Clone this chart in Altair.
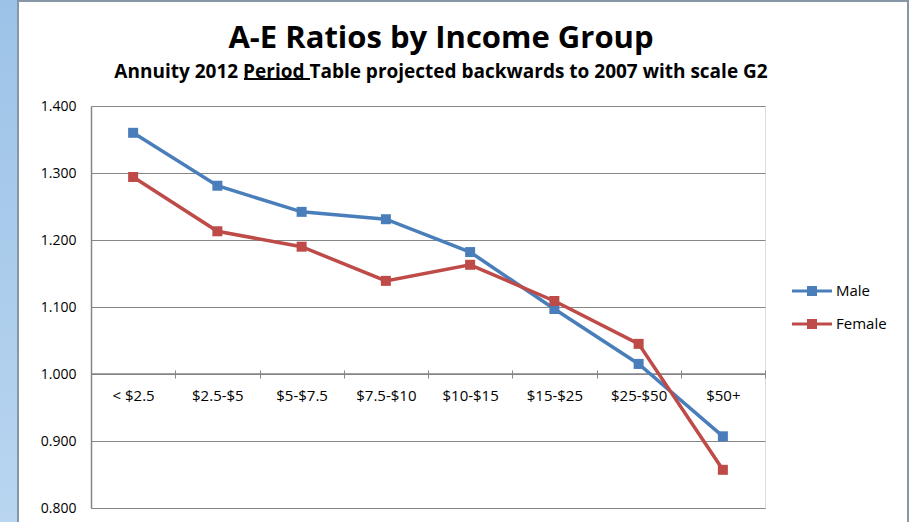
import altair as alt
import pandas as pd

categories = ["< $2.5", "$2.5-$5", "$5-$7.5", "$7.5-$10", "$10-$15", "$15-$25", "$25-$50", "$50+"]
male = [1.360, 1.281, 1.242, 1.231, 1.182, 1.097, 1.015, 0.907]
female = [1.294, 1.213, 1.190, 1.139, 1.163, 1.109, 1.045, 0.857]
series = ["Male", "Female"]
colors = ["#4A7EBB", "#BE4B48"]
y_ticks = [0.8, 0.9, 1.0, 1.1, 1.2, 1.3, 1.4]
axis_cross = [1.0]

rows = []
for s, vals in zip(series, [male, female]):
    for c, v in zip(categories, vals):
        rows.append({"Income": c, "Series": s, "Ratio": v})
df = pd.DataFrame(rows)
cross_df = pd.DataFrame({"Ratio": axis_cross})

FONT = "Open Sans"
GRAY = "#868686"
W, H = 674, 402

legend_path = "M-2,-0.15H2V0.15H-2Z M-0.5,-0.5H0.5V0.5H-0.5Z"


def make_legend():
    return alt.Legend(
        title=None, orient="none", legendX=711, legendY=175, padding=0,
        symbolType=legend_path, symbolSize=400, symbolStrokeWidth=0,
        symbolOpacity=1, rowPadding=15, labelOffset=14, labelFont=FONT,
        labelFontSize=15, labelColor="black",
    )


x_enc = alt.X(
    "Income:N",
    sort=categories,
    scale=alt.Scale(type="band", paddingInner=0, paddingOuter=0),
    axis=alt.Axis(
        title=None, orient="bottom", offset=-138, domain=False,
        tickColor=GRAY, tickWidth=1, tickSize=8, tickBand="extent", labelAngle=0,
        labelFont=FONT, labelFontSize=15, labelColor="black", labelPadding=10,
        grid=False,
    ),
)
y_enc = alt.Y(
    "Ratio:Q",
    scale=alt.Scale(domain=[0.8, 1.4], nice=False, zero=False),
    axis=alt.Axis(
        title=None, values=y_ticks, format=".3f", domainColor=GRAY, domainWidth=1.5,
        ticks=False, grid=True, gridColor=GRAY, gridWidth=1,
        labelFont=FONT, labelFontSize=14, labelColor="black", labelPadding=15,
    ),
)

base = alt.Chart(df)

lines = base.mark_line(strokeWidth=3.5).encode(
    x=x_enc, y=y_enc,
    stroke=alt.Stroke("Series:N", sort=series,
                      scale=alt.Scale(domain=series, range=colors), legend=make_legend()),
)
points = base.mark_point(shape="square", filled=True, size=100, opacity=1).encode(
    x=alt.X("Income:N", sort=categories),
    y="Ratio:Q",
    color=alt.Color("Series:N", sort=series,
                    scale=alt.Scale(domain=series, range=colors), legend=make_legend()),
)

# category axis line where it crosses the value axis at 1.000
cross_rule = alt.Chart(cross_df).mark_rule(color=GRAY, strokeWidth=1.5).encode(
    y=alt.Y("Ratio:Q"), x=alt.value(0), x2=alt.value(W)
)

strip = alt.Chart(df).mark_rect(
    color=alt.LinearGradient(
        gradient="linear", x1=0, y1=0, x2=0, y2=1,
        stops=[alt.GradientStop(color="#9CC3E7", offset=0),
               alt.GradientStop(color="#B9D5F0", offset=1)],
    )
).encode(x=alt.value(-91), x2=alt.value(-73), y=alt.value(-106), y2=alt.value(416))

frame = alt.Chart(df).mark_rect(filled=False, stroke="#8797A8", strokeWidth=2).encode(
    x=alt.value(-73), x2=alt.value(817), y=alt.value(-105), y2=alt.value(440)
)

# underline of the word "Period" in the subtitle
underline = alt.Chart(df).mark_rule(color="black", strokeWidth=1.5).encode(
    x=alt.value(153), x2=alt.value(219), y=alt.value(-27)
)

chart = alt.layer(strip, frame, underline, cross_rule, lines, points).properties(
    width=W, height=H,
    autosize=alt.AutoSizeParams(type="none"),
    padding={"left": 91, "top": 106, "right": 146, "bottom": 14},
    title=alt.TitleParams(
        text="A-E Ratios by Income Group",
        subtitle="Annuity 2012 Period Table projected backwards to 2007 with scale G2",
        font=FONT, fontSize=31, fontWeight="bold", color="black",
        subtitleFont=FONT, subtitleFontSize=19, subtitleFontWeight="bold",
        subtitleColor="black", subtitlePadding=8,
        anchor="middle", frame="group", dx=13, offset=-83,
    ),
).configure_view(strokeWidth=0, stroke="transparent").configure(background="white")

chart.save("out.html", embed_options={"renderer": "svg", "actions": False})
